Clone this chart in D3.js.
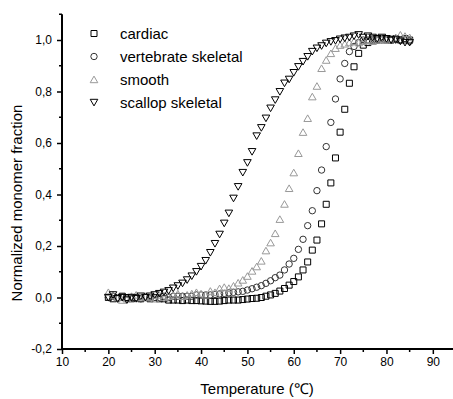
<!DOCTYPE html>
<html>
<head>
<meta charset="utf-8">
<script src="https://cdn.jsdelivr.net/npm/d3@7"></script>
<style>
  body { margin: 0; background: #fff; }
  svg { display: block; font-family: "Liberation Sans", Arial, sans-serif; }
</style>
</head>
<body>
<div id="chart"></div>
<script>
// temperatures (C) of every measured point
var temps = [20,21,22,23,24,25,26,27,28,29,30,31,32,33,34,35,36,37,38,39,
  40,41,42,43,44,45,46,47,48,49,50,51,52,53,54,55,56,57,58,59,
  60,61,62,63,64,65,66,67,68,69,70,71,72,73,74,75,76,77,78,79,
  80,81,82,83,84,85];

var cardiac = [0.0,-0.005,0.0,0.005,0.0,-0.005,0.0,-0.005,0.0,-0.005,
  0.0,-0.005,-0.005,-0.01,-0.01,-0.01,-0.012,-0.01,-0.012,-0.012,
  -0.013,-0.014,-0.015,-0.015,-0.014,-0.012,-0.01,-0.01,-0.01,-0.008,
  -0.006,-0.004,-0.003,0.0,0.005,0.01,0.016,0.025,0.035,0.048,
  0.062,0.08,0.107,0.138,0.184,0.223,0.286,0.362,0.445,0.542,
  0.642,0.731,0.832,0.896,0.948,0.98,0.99,1.0,1.0,1.005,
  1.0,1.0,1.005,1.0,1.005,1.0];

var vertebrate = [0.0,0.005,-0.005,0.0,-0.005,0.0,0.0,-0.005,0.0,0.0,
  0.0,0.0,0.005,0.0,0.005,0.005,0.005,0.005,0.005,0.01,
  0.01,0.01,0.01,0.012,0.014,0.016,0.018,0.02,0.022,0.024,
  0.029,0.034,0.04,0.046,0.055,0.065,0.077,0.087,0.107,0.13,
  0.152,0.187,0.226,0.279,0.337,0.415,0.495,0.586,0.68,0.771,
  0.849,0.909,0.955,0.975,0.99,1.0,1.0,1.005,1.0,1.0,
  1.005,1.0,1.005,1.0,1.0,0.995];

var smooth = [0.02,0.01,0.0,-0.01,-0.005,0.005,0.01,0.0,0.005,0.0,
  -0.005,0.01,0.0,0.005,0.01,0.015,0.005,0.01,0.015,0.02,
  0.015,0.01,0.025,0.02,0.035,0.04,0.036,0.045,0.057,0.068,
  0.083,0.103,0.12,0.142,0.182,0.213,0.249,0.304,0.363,0.424,
  0.485,0.56,0.642,0.696,0.78,0.821,0.89,0.922,0.948,0.968,
  0.98,0.985,0.99,0.995,0.99,0.995,1.0,0.995,1.0,1.005,
  1.0,1.005,1.01,1.02,1.015,1.01];

var scallop = [0.0,0.01,-0.005,0.0,-0.01,0.0,-0.005,0.005,0.0,0.005,
  0.01,0.015,0.02,0.026,0.036,0.045,0.055,0.068,0.083,0.1,
  0.12,0.143,0.174,0.209,0.245,0.288,0.327,0.385,0.43,0.485,
  0.523,0.566,0.627,0.659,0.696,0.735,0.767,0.799,0.832,0.847,
  0.873,0.896,0.916,0.935,0.955,0.968,0.977,0.987,0.993,0.997,
  1.003,1.007,1.01,1.015,1.02,1.01,1.015,1.01,1.005,1.01,
  1.005,1.0,1.0,0.995,0.99,0.99];

var seriesNames = ['cardiac', 'vertebrate skeletal', 'smooth', 'scallop skeletal'];
var xTicks = [10,20,30,40,50,60,70,80,90];
var yTicks = [-0.2,0.0,0.2,0.4,0.6,0.8,1.0];

var width = 453,
  height = 399;

var xScale = d3.scaleLinear()
  .domain([10, 95])
  .range([62, 456]);

var yScale = d3.scaleLinear()
  .domain([-0.2, 1.1])
  .range([349, 14.25]);

var svg = d3.select('#chart').append('svg')
  .attr('width', width)
  .attr('height', height);

// marker shapes, all centred on their box
function markerPath(kind) {
  if (kind == 0) return 'M-3,-3H3V3H-3Z';
  if (kind == 1) return 'M-3.2,0A3.2,3.2 0 1,0 3.2,0A3.2,3.2 0 1,0 -3.2,0Z';
  if (kind == 2) return 'M0,-3.4L3.8,3.2H-3.8Z';
  return 'M0,3.4L3.8,-3.2H-3.8Z';
}
var colors = ['#000', '#333', '#999', '#000'];
var allSeries = [cardiac, vertebrate, smooth, scallop];

// axes
var xAxis = d3.axisBottom(xScale)
  .tickValues(xTicks)
  .tickSize(5)
  .tickPadding(3)
  .tickFormat(d3.format('d'));

var yAxis = d3.axisLeft(yScale)
  .tickValues(yTicks)
  .tickSize(5)
  .tickPadding(5)
  .tickFormat(function(d) { return d.toFixed(1).replace('.', ','); });

var gx = svg.append('g')
  .attr('transform', 'translate(0,' + yScale(-0.2) + ')')
  .call(xAxis);

var gy = svg.append('g')
  .attr('transform', 'translate(' + xScale(10) + ',0)')
  .call(yAxis);

[gx, gy].forEach(function(g) {
  g.select('.domain').remove();
  g.selectAll('.tick line').attr('stroke-width', 1.5);
  g.selectAll('.tick text')
    .attr('font-size', 12)
    .attr('font-family', '"Liberation Sans", Arial, sans-serif')
    .attr('fill', '#000');
});

// axis lines drawn as plain lines so they stay square at the ends
svg.append('line')
  .attr('x1', xScale(10) - 1).attr('x2', 453)
  .attr('y1', yScale(-0.2)).attr('y2', yScale(-0.2))
  .attr('stroke', '#000').attr('stroke-width', 2);
svg.append('line')
  .attr('x1', xScale(10)).attr('x2', xScale(10))
  .attr('y1', yScale(1.1)).attr('y2', yScale(-0.2) + 1)
  .attr('stroke', '#000').attr('stroke-width', 2);

// minor ticks
svg.append('g').selectAll('line')
  .data(xTicks.map(function(d) { return d + 5; }))
  .enter().append('line')
    .attr('x1', function(d) { return xScale(d); })
    .attr('x2', function(d) { return xScale(d); })
    .attr('y1', yScale(-0.2))
    .attr('y2', yScale(-0.2) + 3)
    .attr('stroke', '#000')
    .attr('stroke-width', 1.5);

svg.append('g').selectAll('line')
  .data(yTicks.map(function(d) { return d + 0.1; }))
  .enter().append('line')
    .attr('x1', xScale(10))
    .attr('x2', xScale(10) - 3)
    .attr('y1', function(d) { return yScale(d); })
    .attr('y2', function(d) { return yScale(d); })
    .attr('stroke', '#000')
    .attr('stroke-width', 1.5);

// data points
allSeries.forEach(function(values, k) {
  svg.append('g').selectAll('path')
    .data(values)
    .enter().append('path')
      .attr('d', markerPath(k))
      .attr('transform', function(d, i) {
        return 'translate(' + xScale(temps[i]) + ',' + yScale(d) + ')';
      })
      .attr('fill', 'none')
      .attr('stroke', colors[k])
      .attr('stroke-width', 1);
});

// legend
var legend = svg.append('g').selectAll('g')
  .data(seriesNames)
  .enter().append('g')
    .attr('transform', function(d, i) {
      return 'translate(94,' + (33.5 + i * 23) + ')';
    });

legend.append('path')
  .attr('d', function(d, i) { return markerPath(i); })
  .attr('fill', 'none')
  .attr('stroke', function(d, i) { return colors[i]; })
  .attr('stroke-width', 1);

legend.append('text')
  .attr('x', 26)
  .attr('y', 5.5)
  .attr('font-size', 15)
  .text(function(d) { return d; });

// axis titles
svg.append('text')
  .attr('x', 257)
  .attr('y', 394)
  .attr('text-anchor', 'middle')
  .attr('font-size', 15)
  .text('Temperature (\u2103)');

svg.append('text')
  .attr('transform', 'translate(22,203) rotate(-90)')
  .attr('text-anchor', 'middle')
  .attr('font-size', 15)
  .text('Normalized monomer fraction');
</script>
</body>
</html>
